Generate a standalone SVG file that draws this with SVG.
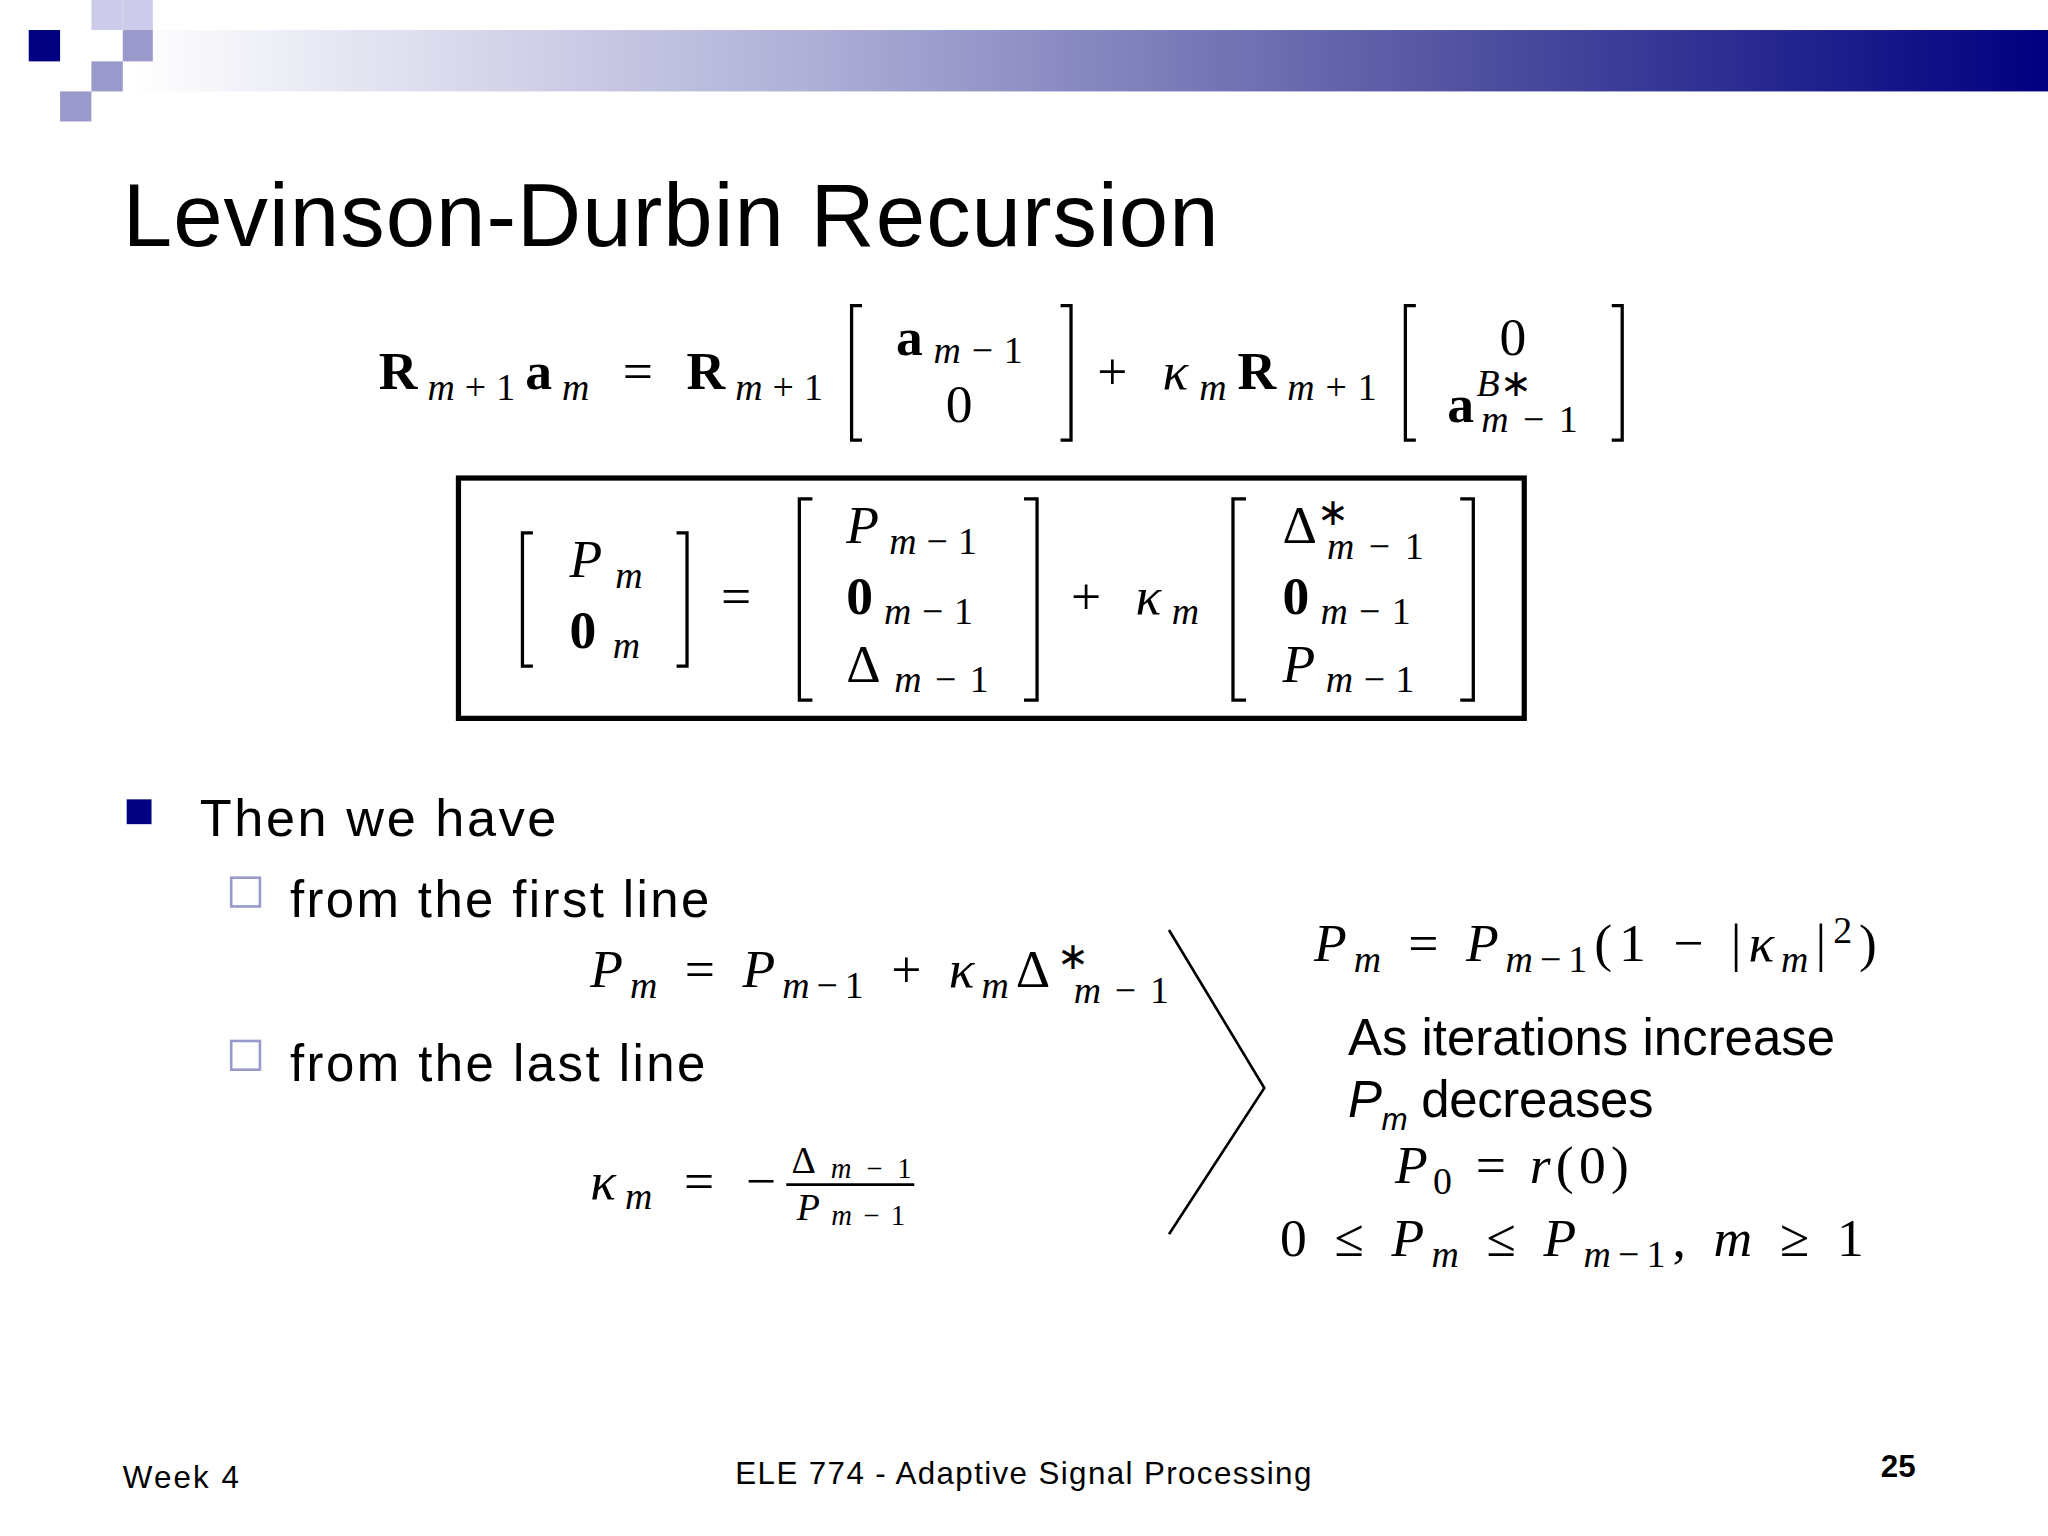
<svg xmlns="http://www.w3.org/2000/svg" width="2048" height="1536" viewBox="0 0 2048 1536">
<defs>
<linearGradient id="hb" x1="0" x2="1" y1="0" y2="0">
<stop offset="0" stop-color="#ffffff"/><stop offset="0.35" stop-color="#b0b0d8"/><stop offset="0.7" stop-color="#5050a0"/><stop offset="1" stop-color="#000080"/>
</linearGradient>
<style>
.m{font-family:"Liberation Serif",serif;font-size:41px;fill:#000}
.i{font-style:italic}
.b{font-weight:bold}
.s{font-size:29px}
.t{font-family:"Liberation Sans",Arial,sans-serif;fill:#000}
.br{fill:none;stroke:#000;stroke-width:2.5}
</style>
</defs>
<rect width="2048" height="1536" fill="#fff"/>
<g transform="scale(1.30612)">
<g id="header">
<rect x="100" y="23" width="1468" height="47" fill="url(#hb)"/>
<rect x="70" y="0" width="24" height="23" fill="#ccccea"/>
<rect x="94" y="0" width="23" height="23" fill="#ccccea"/>
<rect x="22" y="23" width="24" height="24" fill="#000080"/>
<rect x="70" y="23" width="24" height="24" fill="#ffffff"/>
<rect x="94" y="23" width="23" height="24" fill="#9999cc"/>
<rect x="70" y="47" width="24" height="23" fill="#9999cc"/>
<rect x="46" y="70" width="24" height="23" fill="#9999cc"/>
</g>
<text class="t" x="94" y="188" font-size="68" textLength="839">Levinson-Durbin Recursion</text>
<g id="eq1">
<text class="m" x="290" y="298" textLength="340"><tspan class="b">R</tspan><tspan class="i s" dy="8">m</tspan><tspan class="s" dy="0">+1</tspan><tspan class="b" dy="-8">a</tspan><tspan class="i s" dy="8">m</tspan><tspan dy="-8"> = </tspan><tspan class="b">R</tspan><tspan class="i s" dy="8">m</tspan><tspan class="s">+1</tspan></text>
<path class="br" d="M660,234 h-8 v103 h8 M812,234 h8 v103 h-8"/>
<text class="m" x="686" y="272" textLength="97"><tspan class="b">a</tspan><tspan class="i s" dy="6">m</tspan><tspan class="s">−1</tspan></text>
<text class="m" x="724" y="323">0</text>
<text class="m" x="840" y="298" textLength="214">+ <tspan class="i">κ</tspan><tspan class="i s" dy="8">m</tspan><tspan class="b" dy="-8">R</tspan><tspan class="i s" dy="8">m</tspan><tspan class="s">+1</tspan></text>
<path class="br" d="M1084,234 h-8 v103 h8 M1234,234 h8 v103 h-8"/>
<text class="m" x="1148" y="272">0</text>
<text class="m" x="1108" y="323"><tspan class="b">a</tspan><tspan class="i s" dx="2" dy="-20">B</tspan><tspan class="s">∗</tspan></text>
<text class="m s" x="1134" y="331" textLength="74"><tspan class="i">m</tspan>−1</text>
</g>
<g id="eq2">
<rect x="351" y="366" width="816" height="184" fill="none" stroke="#000" stroke-width="4"/>
<path class="br" d="M408,408 h-8 v102 h8 M518,408 h8 v102 h-8"/>
<text class="m" x="436" y="442" textLength="56"><tspan class="i">P</tspan><tspan class="i s" dy="8">m</tspan></text>
<text class="m" x="436" y="496" textLength="54"><tspan class="b">0</tspan><tspan class="i s" dy="8">m</tspan></text>
<text class="m" x="552" y="470">=</text>
<path class="br" d="M622,382 h-10 v154 h10 M784,382 h10 v154 h-10"/>
<text class="m" x="648" y="416" textLength="100"><tspan class="i">P</tspan><tspan class="i s" dy="8">m</tspan><tspan class="s">−1</tspan></text>
<text class="m" x="648" y="470" textLength="97"><tspan class="b">0</tspan><tspan class="i s" dy="8">m</tspan><tspan class="s">−1</tspan></text>
<text class="m" x="648" y="522" textLength="109">Δ<tspan class="i s" dy="8">m</tspan><tspan class="s">−1</tspan></text>
<text class="m" x="820" y="470" textLength="98">+ <tspan class="i">κ</tspan><tspan class="i s" dy="8">m</tspan></text>
<path class="br" d="M954,382 h-10 v154 h10 M1118,382 h10 v154 h-10"/>
<text class="m" x="982" y="416">Δ<tspan class="s" dy="-14">∗</tspan></text>
<text class="m s" x="1016" y="428" textLength="74"><tspan class="i">m</tspan>−1</text>
<text class="m" x="982" y="470" textLength="98"><tspan class="b">0</tspan><tspan class="i s" dy="8">m</tspan><tspan class="s">−1</tspan></text>
<text class="m" x="982" y="522" textLength="101"><tspan class="i">P</tspan><tspan class="i s" dy="8">m</tspan><tspan class="s">−1</tspan></text>
</g>
<g id="bullets">
<rect x="97" y="612" width="19" height="19" fill="#000080"/>
<text class="t" x="153" y="640" font-size="40" textLength="273">Then we have</text>
<rect x="177" y="672" width="22" height="22" fill="none" stroke="#9999cc" stroke-width="2"/>
<text class="t" x="222" y="702" font-size="39" textLength="321">from the first line</text>
<rect x="177" y="797" width="22" height="22" fill="none" stroke="#9999cc" stroke-width="2"/>
<text class="t" x="222" y="828" font-size="39" textLength="318">from the last line</text>
</g>
<g id="eq3">
<text class="m" x="452" y="756" textLength="382"><tspan class="i">P</tspan><tspan class="i s" dy="8">m</tspan><tspan dy="-8"> = </tspan><tspan class="i">P</tspan><tspan class="i s" dy="8">m</tspan><tspan class="s">−1</tspan><tspan dy="-8"> + </tspan><tspan class="i">κ</tspan><tspan class="i s" dy="8">m</tspan><tspan dy="-8">Δ</tspan><tspan class="s" dy="-14">∗</tspan></text>
<text class="m s" x="822" y="768" textLength="73"><tspan class="i">m</tspan>−1</text>
<text class="m" x="452" y="918" textLength="142"><tspan class="i">κ</tspan><tspan class="i s" dy="8">m</tspan><tspan dy="-8"> = −</tspan></text>
<line x1="602" y1="907" x2="700" y2="907" stroke="#000" stroke-width="2"/>
<text class="m s" x="606" y="898" textLength="92">Δ<tspan class="i" font-size="22" dy="4">m</tspan><tspan font-size="22">−1</tspan></text>
<text class="m s" x="610" y="934" textLength="83"><tspan class="i">P</tspan><tspan class="i" font-size="22" dy="4">m</tspan><tspan font-size="22">−1</tspan></text>
</g>
<g id="connectors">
<polyline points="895,712 968,833 895,945" fill="none" stroke="#000" stroke-width="2"/>
</g>
<g id="right">
<text class="m" x="1006" y="736" textLength="431"><tspan class="i">P</tspan><tspan class="i s" dy="8">m</tspan><tspan dy="-8"> = </tspan><tspan class="i">P</tspan><tspan class="i s" dy="8">m</tspan><tspan class="s">−1</tspan><tspan dy="-8">(1 − |</tspan><tspan class="i">κ</tspan><tspan class="i s" dy="8">m</tspan><tspan dy="-8">|</tspan><tspan class="s" dy="-14">2</tspan><tspan dy="14">)</tspan></text>
<text class="t" x="1032" y="808" font-size="39" textLength="373">As iterations increase</text>
<text class="t" x="1032" y="855" font-size="39" textLength="234"><tspan font-style="italic">P</tspan><tspan font-style="italic" font-size="24" dy="10">m</tspan><tspan dy="-10"> decreases</tspan></text>
<text class="m" x="1068" y="906" textLength="179"><tspan class="i">P</tspan><tspan class="s" dy="8">0</tspan><tspan dy="-8"> = </tspan><tspan class="i">r</tspan>(0)</text>
<text class="m" x="980" y="962" textLength="447">0 ≤ <tspan class="i">P</tspan><tspan class="i s" dy="8">m</tspan><tspan dy="-8"> ≤ </tspan><tspan class="i">P</tspan><tspan class="i s" dy="8">m</tspan><tspan class="s">−1</tspan><tspan dy="-8">, </tspan><tspan class="i">m</tspan> ≥ 1</text>
</g>
<g id="footer">
<text class="t" x="94" y="1139" font-size="24" textLength="89">Week 4</text>
<text class="t" x="563" y="1136" font-size="24" textLength="441">ELE 774 - Adaptive Signal Processing</text>
<text class="t" x="1440" y="1131" font-size="24" font-weight="bold">25</text>
</g>
</g>
</svg>
